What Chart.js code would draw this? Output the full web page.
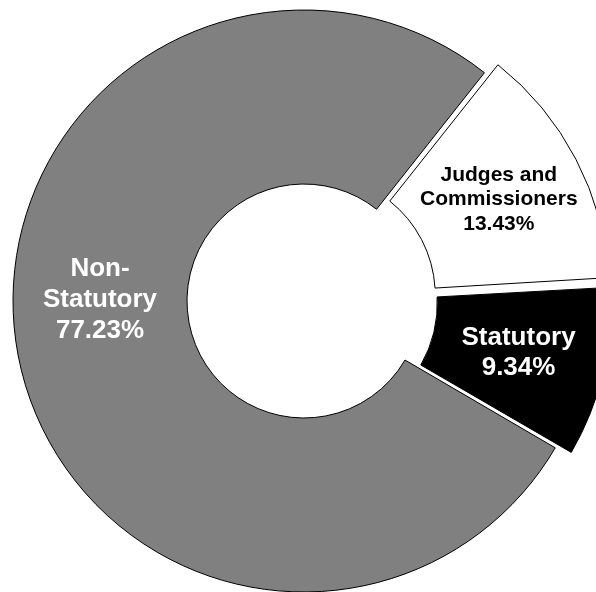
<!DOCTYPE html>
<html>
<head>
<meta charset="utf-8">
<script src="https://cdn.jsdelivr.net/npm/chart.js@4.4.1/dist/chart.umd.min.js"></script>
<style>
  html, body { margin: 0; padding: 0; background: #ffffff; }
  #wrap { width: 596px; height: 592px; position: relative; }
</style>
</head>
<body>
<div id="wrap"><canvas id="myChart"></canvas></div>
<script>
// data
const categories = ["Non-Statutory", "Judges and Commissioners", "Statutory"];
const shares = [77.23, 13.43, 9.34];
const labelLines = [["Non-", "Statutory"], ["Judges and", "Commissioners"], ["Statutory"]];

// styles
const sliceColors = ["#808080", "#ffffff", "#000000"];
const textColors = ["#ffffff", "#000000", "#ffffff"];
const fontSizes = [26, 21, 26];
const lineHeights = [31, 24.5, 30];
const sliceOffsets = [0, 50, 46]; // chart.js moves arcs by offset/4
const labelNudge = [10.9, 0, 0]; // degrees, clockwise

const ctx = document.getElementById("myChart").getContext("2d");

const sliceLabels = {
  id: "sliceLabels",
  afterDatasetsDraw(chart) {
    const c = chart.ctx;
    const meta = chart.getDatasetMeta(0);
    meta.data.forEach((arc, i) => {
      const p = arc.getProps(["x", "y", "startAngle", "endAngle", "innerRadius", "outerRadius", "circumference"], true);
      const mid = (p.startAngle + p.endAngle) / 2;
      const move = sliceOffsets[i] / 4;
      const fix = 1 - Math.sin(Math.min(Math.PI, p.circumference));
      const r = (p.innerRadius + p.outerRadius) / 2 + move * fix;
      const a = mid + (labelNudge[i] * Math.PI) / 180;
      const cx = p.x + Math.cos(mid) * move + Math.cos(a) * r;
      const cy = p.y + Math.sin(mid) * move + Math.sin(a) * r;
      const lines = labelLines[i].concat([shares[i].toFixed(2) + "%"]);
      c.save();
      c.font = "bold " + fontSizes[i] + "px 'Liberation Sans', Arial, sans-serif";
      c.fillStyle = textColors[i];
      c.textAlign = "center";
      c.textBaseline = "middle";
      lines.forEach((t, k) => {
        c.fillText(t, cx, cy + (k - (lines.length - 1) / 2) * lineHeights[i]);
      });
      c.restore();
    });
  },
};

const doughnut = new Chart(ctx, {
  type: "doughnut",
  data: {
    labels: categories,
    datasets: [
      {
        data: shares,
        backgroundColor: sliceColors,
        borderColor: "#000000",
        borderWidth: 1,
        offset: sliceOffsets,
        hoverOffset: 0,
        clip: false,
      },
    ],
  },
  options: {
    responsive: true,
    maintainAspectRatio: false,
    animation: false,
    events: [],
    rotation: 120.3,
    radius: 291,
    cutout: "40.2%",
    layout: {
      padding: { left: 12, top: 10, right: 0, bottom: 0 },
    },
    plugins: {
      legend: { display: false },
      tooltip: { enabled: false },
      title: { display: false },
    },
  },
  plugins: [sliceLabels],
});
</script>
</body>
</html>
